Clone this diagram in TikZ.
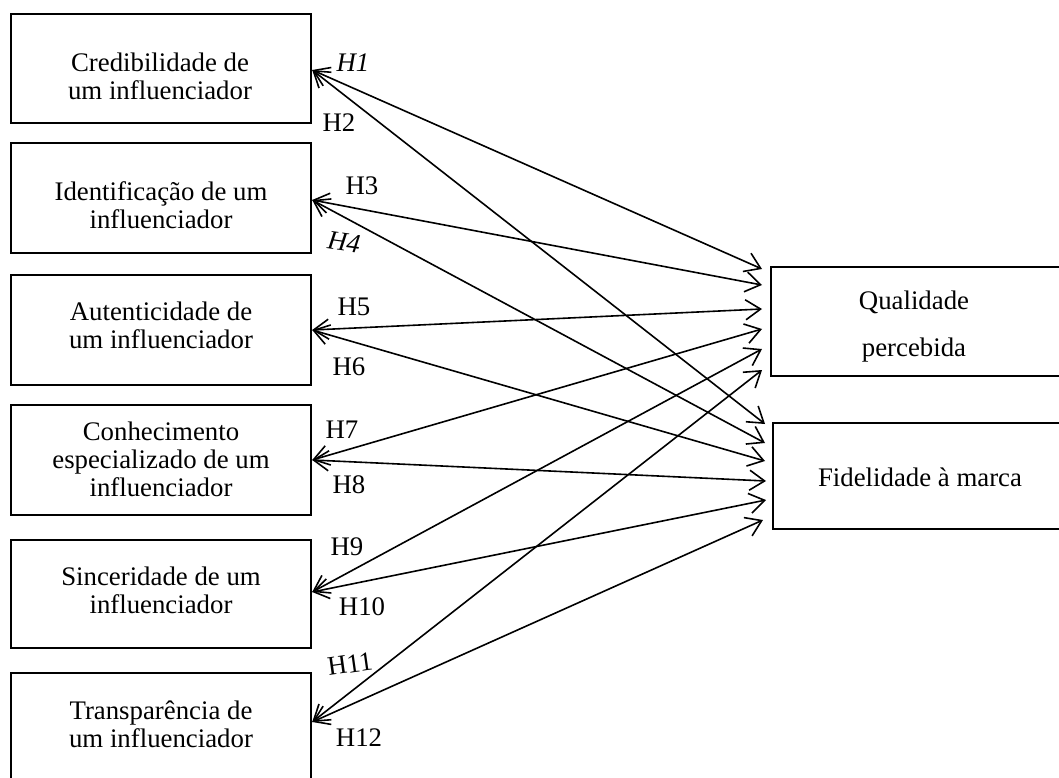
\documentclass[tikz,border=0pt]{standalone}
\usepackage{fontspec}
\setmainfont{Liberation Serif}
\usetikzlibrary{arrows.meta}
\begin{document}
\begin{tikzpicture}[x=1pt,y=-1pt,
  box/.style={draw, line width=2.4pt, inner sep=0pt, minimum width=300pt},
  txt/.style={align=center, font=\fontsize{26.8}{28}\selectfont, inner sep=0pt},
  lbl/.style={font=\fontsize{26.8}{28}\selectfont, inner sep=0pt},
  link/.style={line width=1.6pt,
    {Straight Barb[length=15pt,width=20pt]}-{Straight Barb[length=15pt,width=20pt]}}]
\useasboundingbox (0,0) rectangle (1059,778);
\clip (0,0) rectangle (1059,778);

% left boxes
\node[box, minimum height=109pt] (b1) at (161,68.5) {};
\node[box, minimum height=110pt] (b2) at (161,198) {};
\node[box, minimum height=110pt] (b3) at (161,330) {};
\node[box, minimum height=110pt] (b4) at (161,460) {};
\node[box, minimum height=108pt] (b5) at (161,594) {};
\node[box, minimum height=110pt] (b6) at (161,728) {};
% right boxes
\node[box, minimum width=295pt, minimum height=109pt] (q) at (918.5,321.5) {};
\node[box, minimum width=293pt, minimum height=106pt] (f) at (919.5,476) {};

% texts
\node[txt] (t1) at (160,76) {Credibilidade de\\um influenciador};
\node[txt] (t2) at (161,205) {Identificação de um\\influenciador};
\node[txt] (t3) at (161,325) {Autenticidade de\\um influenciador};
\node[txt] (t4) at (161,459) {Conhecimento\\especializado de um\\influenciador};
\node[txt] (t5) at (161,590) {Sinceridade de um\\influenciador};
\node[txt] (t6) at (161,724) {Transparência de\\um influenciador};
\node[txt] (tq) at (914,327) {Qualidade\\[19pt]percebida};
\node[txt] (tf) at (920,477) {Fidelidade à marca};

% arrow end points at the right boxes
\coordinate (qa) at (762,269);
\coordinate (qb) at (762,285);
\coordinate (qc) at (762,309);
\coordinate (qd) at (762,329);
\coordinate (qe) at (762,349);
\coordinate (qf) at (762,370);
\coordinate (fa) at (765,424);
\coordinate (fb) at (765,443);
\coordinate (fc) at (765,461);
\coordinate (fd) at (766,481);
\coordinate (fe) at (766,500);
\coordinate (ff) at (763,520);

% connectors
\draw[link] ([yshift=-1.5pt]b1.east) -- (qa);
\draw[link] ([yshift=-1.5pt]b1.east) -- (fa);
\draw[link] ([yshift=-2pt]b2.east) -- (qb);
\draw[link] ([yshift=-2pt]b2.east) -- (fb);
\draw[link] (b3.east) -- (qc);
\draw[link] (b3.east) -- (fc);
\draw[link] (b4.east) -- (qd);
\draw[link] (b4.east) -- (fd);
\draw[link] ([yshift=2pt]b5.east) -- (qe);
\draw[link] ([yshift=2pt]b5.east) -- (fe);
\draw[link] ([yshift=6pt]b6.east) -- (qf);
\draw[link] ([yshift=6pt]b6.east) -- (ff);

% hypothesis labels
\node[lbl] (h1) at (353,63) {\textit{H1}};
\node[lbl] (h2) at (339,123) {H2};
\node[lbl] (h3) at (362,186) {H3};
\node[lbl, rotate=-8] (h4) at (344,242) {\textit{H4}};
\node[lbl] (h5) at (354,307) {H5};
\node[lbl] (h6) at (349,367) {H6};
\node[lbl] (h7) at (342,430) {H7};
\node[lbl] (h8) at (349,485) {H8};
\node[lbl] (h9) at (347,547) {H9};
\node[lbl] (h10) at (362,607) {H10};
\node[lbl, rotate=8] (h11) at (350,664) {H11};
\node[lbl] (h12) at (359,738) {H12};
\end{tikzpicture}
\end{document}
